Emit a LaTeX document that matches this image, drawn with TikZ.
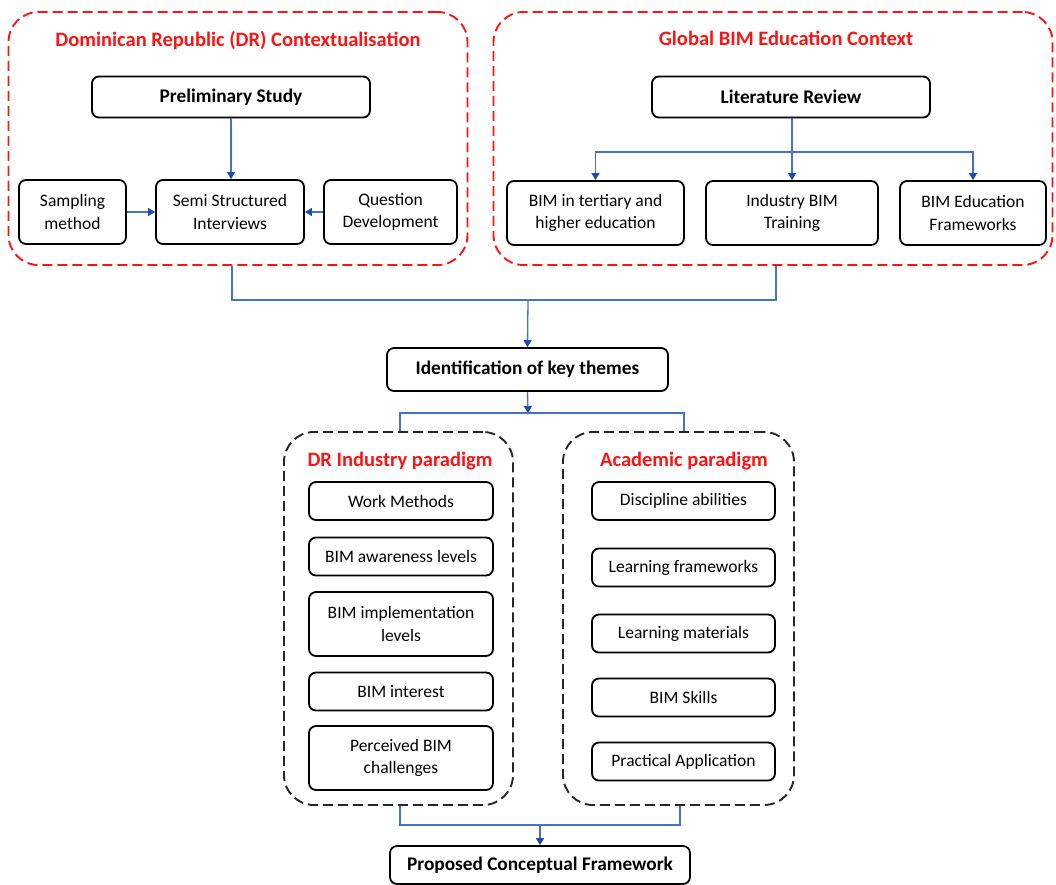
\documentclass[tikz,border=0pt]{standalone}
\usepackage{fontspec}
\setmainfont{Carlito}
\usetikzlibrary{positioning, arrows.meta, calc}

\definecolor{linkblue}{RGB}{68,114,196}
\definecolor{tipblue}{RGB}{30,75,175}
\definecolor{titlered}{RGB}{250,20,20}

\begin{document}
\begin{tikzpicture}
    [
        x=1pt, y=-1pt,
        box/.style={draw, rectangle, rounded corners=7pt, line width=1.8pt, align=center, inner sep=0pt, font=\fontsize{17.5}{22.5}\selectfont},
        headbox/.style={box, font=\bfseries\fontsize{19.3}{22}\selectfont},
        redframe/.style={draw=titlered, dash pattern=on 10pt off 5pt, line width=1.9pt, rounded corners=30pt, inner sep=0pt},
        blackframe/.style={draw=black!85, dash pattern=on 10pt off 5pt, line width=1.9pt, rounded corners=30pt, inner sep=0pt},
        frametitle/.style={text=titlered, font=\bfseries\fontsize{20.5}{24}\selectfont},
        link/.style={draw=linkblue, line width=1.3pt},
        tip/.style={-{Triangle[width=8pt, length=7pt, color=tipblue]}}
    ]
        \useasboundingbox (0,0) rectangle (1056,884);
        % =========================================================================
        % FRAMES
        % =========================================================================
        \node [redframe, minimum width=459pt, minimum height=253pt] (drframe) at (238,138.5) {};
        \node [redframe, minimum width=559pt, minimum height=253pt] (globframe) at (773,138.5) {};
        \node [blackframe, minimum width=229pt, minimum height=373pt] (indframe) at (398.5,618.5) {};
        \node [blackframe, minimum width=231pt, minimum height=373pt] (acframe) at (678.5,618.5) {};
        \node [frametitle] (drtitle) at (238,40) {Dominican Republic (DR) Contextualisation};
        \node [frametitle] (globtitle) at (786,38) {Global BIM Education Context};
        \node [frametitle] (indtitle) at (400,461) {DR Industry paradigm};
        \node [frametitle] (actitle) at (684,461) {Academic paradigm};

        % =========================================================================
        % NODES
        % =========================================================================
        % --- DR contextualisation ---
        \node [headbox, minimum width=278pt, minimum height=41pt] (prelim) at (231,97) {Preliminary Study};
        \node [box, minimum width=148pt, minimum height=64pt] (semi) at (230,212) {Semi Structured\\Interviews};
        \node [box, minimum width=107pt, minimum height=64pt] (sampling) at (72.5,212) {Sampling\\method};
        \node [box, minimum width=133pt, minimum height=64pt] (question) at (390.5,212) {Question\\Development};
        % --- Global context ---
        \node [headbox, minimum width=278pt, minimum height=41pt] (litrev) at (791,97) {Literature Review};
        \node [box, minimum width=177pt, minimum height=64pt] (tertiary) at (595.5,213) {BIM in tertiary and\\higher education};
        \node [box, minimum width=172pt, minimum height=64pt] (indtrain) at (792,213) {Industry BIM\\Training};
        \node [box, minimum width=146pt, minimum height=64pt] (eduframes) at (973,213) {BIM Education\\Frameworks};
        % --- Themes ---
        \node [headbox, minimum width=281pt, minimum height=43pt] (themes) at (527.5,369.5) {Identification of key themes};
        % --- Industry paradigm ---
        \node [box, minimum width=184pt, minimum height=38pt] (workmeth) at (401,501) {Work Methods};
        \node [box, minimum width=184pt, minimum height=38pt] (awareness) at (401,556.5) {BIM awareness levels};
        \node [box, minimum width=184pt, minimum height=64pt] (implement) at (401,624) {BIM implementation\\levels};
        \node [box, minimum width=184pt, minimum height=38pt] (interest) at (401,691.5) {BIM interest};
        \node [box, minimum width=184pt, minimum height=64pt] (challenges) at (401,758) {Perceived BIM\\challenges};
        % --- Academic paradigm ---
        \node [box, minimum width=183pt, minimum height=38pt] (discipline) at (683.5,501) {Discipline abilities};
        \node [box, minimum width=183pt, minimum height=38pt] (learnframe) at (683.5,567.5) {Learning frameworks};
        \node [box, minimum width=183pt, minimum height=38pt] (learnmat) at (683.5,633.5) {Learning materials};
        \node [box, minimum width=183pt, minimum height=38pt] (skills) at (683.5,697.5) {BIM Skills};
        \node [box, minimum width=183pt, minimum height=38pt] (practical) at (683.5,761.5) {Practical Application};
        % --- Output ---
        \node [headbox, minimum width=300pt, minimum height=38pt] (proposed) at (540,865) {Proposed Conceptual Framework};

        % --- Junctions ---
        \coordinate (litsplit) at (792,152);
        \coordinate (topmerge) at (528,300);
        \coordinate (themesplit) at (528,413);
        \coordinate (botmerge) at (540,825);

        % =========================================================================
        % PATHS
        % =========================================================================
        % --- DR contextualisation ---
        \draw [link, tip] (prelim.south) -- (prelim.south |- semi.north);
        \draw [link, tip] (sampling.east) -- (semi.west);
        \draw [link, tip] (question.west) -- (semi.east);
        % --- Global context ---
        \draw [link, tip] (litrev.south -| indtrain.north) -- (indtrain.north);
        \draw [link, {Triangle[width=8pt, length=7pt, color=tipblue]}-{Triangle[width=8pt, length=7pt, color=tipblue]}]
            (tertiary.north) |- (litsplit) -| (eduframes.north);
        % --- Merge into themes ---
        \draw [link] ([xshift=-6pt]drframe.south) |- (topmerge) -| ([xshift=3pt]globframe.south);
        \draw [link, tip] (topmerge) -- (themes.north);
        % --- Split into paradigms ---
        \draw [link, tip] (themes.south) -- (themesplit);
        \draw [link] ([xshift=1.5pt]indframe.north) |- (themesplit) -| ([xshift=5.5pt]acframe.north);
        % --- Merge into framework ---
        \draw [link] ([xshift=1.5pt]indframe.south) |- (botmerge) -| ([xshift=1.5pt]acframe.south);
        \draw [link, tip] (botmerge) -- (proposed.north);
    \end{tikzpicture}
\end{document}
